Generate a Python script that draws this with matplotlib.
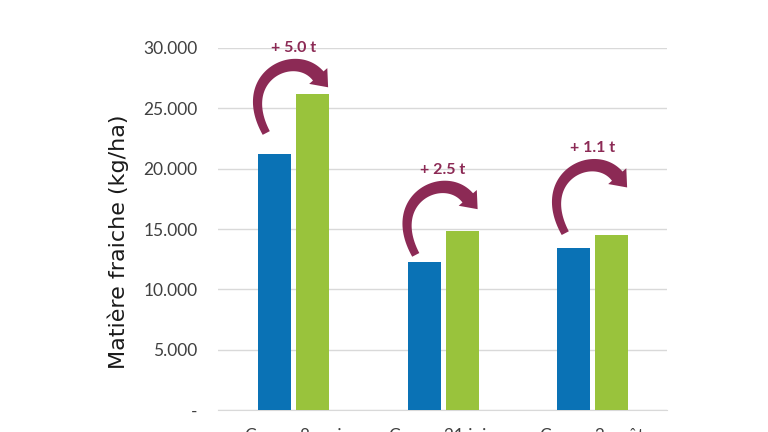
import numpy as np
import matplotlib.pyplot as plt
from matplotlib.patches import Polygon
from matplotlib.transforms import IdentityTransform
from matplotlib.ticker import FuncFormatter

plt.rcParams["font.family"] = ["Lato", "DejaVu Sans"]

coupes = ['Coupe 8 mai', 'Coupe 21 juin', 'Coupe 3 août']
temoin = [21200, 12300, 13400]
traite = [26200, 14800, 14500]
# hauteur des étiquettes "+ x t" (kg/ha)
label_y = [30000, 19900, 21700]

blue = '#0a72b5'
green = '#99c33c'
maroon = '#8c2a55'
grid_col = '#d9d9d9'
txt_col = '#404040'

fig = plt.figure(figsize=(7.68, 4.32), dpi=100)
ax = fig.add_axes([0.2845, 0.0509, 0.5840, 0.838])

x = np.arange(len(coupes))
w = 0.22
ax.bar(x - 0.124, temoin, w, color=blue, zorder=3)
ax.bar(x + 0.13, traite, w, color=green, zorder=3)

ax.set_xlim(-0.5, 2.5)
ax.set_ylim(0, 30000)
ax.set_yticks(np.arange(0, 30001, 5000))
ax.yaxis.set_major_formatter(FuncFormatter(
    lambda v, p: '-' if v == 0 else f'{int(v):,}'.replace(',', '.')))
ax.set_xticks(x)
ax.set_xticklabels(coupes)
ax.grid(axis='y', color=grid_col, lw=1, zorder=0)
for s in ['top', 'right', 'left']:
    ax.spines[s].set_visible(False)
ax.spines['bottom'].set_color(grid_col)
ax.tick_params(axis='both', length=0, labelsize=12.5, colors=txt_col)
ax.tick_params(axis='y', pad=15)
ax.tick_params(axis='x', pad=13)
ax.set_ylabel('Matière fraiche (kg/ha)', fontsize=16, color='#1a1a1a',
              family=['DejaVu Sans'])
ax.yaxis.set_label_coords(-0.2, 0.464)


def bez(p, t):
    t = t[:, None]
    return ((1 - t) ** 3) * p[0] + 3 * (1 - t) ** 2 * t * p[1] \
        + 3 * (1 - t) * t ** 2 * p[2] + t ** 3 * p[3]


# forme de la flèche courbe, en pixels (dx vers la droite, dy vers le bas)
ctrl = np.array([(-27, 85), (-58, 28), (2, 0), (25, 28)], dtype=float)

for xi, ly, a, b in zip(x, label_y, temoin, traite):
    cx, cy = ax.transData.transform((xi, ly))
    pts = np.column_stack([cx + ctrl[:, 0], cy - ctrl[:, 1]])
    t = np.linspace(0, 1, 60)
    c = bez(pts, t)
    tan = np.gradient(c, axis=0)
    tan /= np.linalg.norm(tan, axis=1)[:, None]
    nrm = np.column_stack([-tan[:, 1], tan[:, 0]])
    half = (4.0 + 3.0 * t)[:, None]
    left = c + nrm * half
    right = c - nrm * half
    e, d, n = c[-1], tan[-1], nrm[-1]
    head = [e + n * 12, e + d * 15, e - n * 12]
    poly = np.vstack([left, head, right[::-1]])
    ax.add_patch(Polygon(poly, closed=True, color=maroon, lw=0,
                         transform=IdentityTransform(), clip_on=False, zorder=4))
    ax.text(xi, ly, f'+ {(b - a) / 1000:.1f} t', ha='center', va='center',
            color=maroon, fontsize=11.5, fontweight='bold', zorder=5)

fig.savefig('out.png', dpi=100)
